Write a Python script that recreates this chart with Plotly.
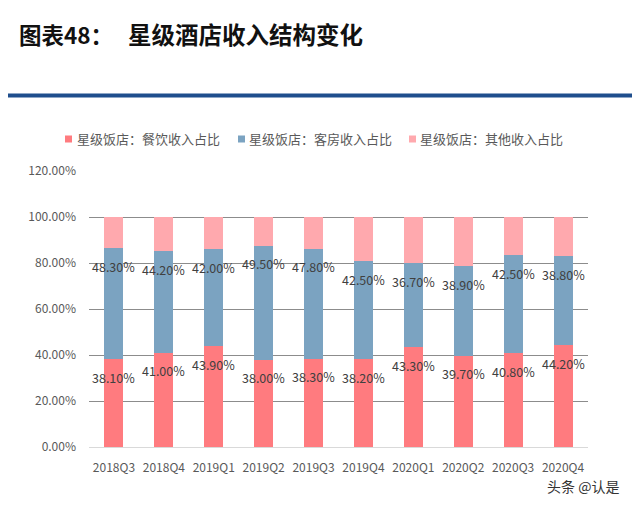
import plotly.graph_objects as go

categories = ["2018Q3", "2018Q4", "2019Q1", "2019Q2", "2019Q3",
              "2019Q4", "2020Q1", "2020Q2", "2020Q3", "2020Q4"]
food_share = [38.1, 41.0, 43.9, 38.0, 38.3, 38.2, 43.3, 39.7, 40.8, 44.2]
room_share = [48.3, 44.2, 42.0, 49.5, 47.8, 42.5, 36.7, 38.9, 42.5, 38.8]
other_share = [round(100 - f - r, 1) for f, r in zip(food_share, room_share)]

series_names = ["星级饭店：餐饮收入占比", "星级饭店：客房收入占比", "星级饭店：其他收入占比"]
colors = ["#FF7B7F", "#7BA3C1", "#FFA9AE"]

# the page body adds an 8px offset; work in window pixels and convert
OFF = 8
W, H = 640 - 2 * OFF, 506 - 2 * OFF
L, R, T, B = 89 - OFF, 588 - OFF, 171 - OFF, 447 - OFF


def px(xp):
    return (xp - OFF - L) / (R - L)


def py(yp):
    return (B - (yp - OFF)) / (B - T)


FONT = "Noto Sans CJK SC"

fig = go.Figure()
for name, vals, c in zip(series_names, [food_share, room_share, other_share], colors):
    fig.add_trace(go.Bar(
        x=categories, y=[v / 100 for v in vals], name=name,
        marker=dict(color=c, line=dict(width=0)),
        hoverinfo="skip", showlegend=False,
    ))

annotations = []
for i, cat in enumerate(categories):
    f = food_share[i] / 100
    r = room_share[i] / 100
    annotations.append(dict(x=cat, y=f, yshift=-18, text=f"{food_share[i]:.2f}%",
                            showarrow=False, font=dict(size=12.5, color="#404040", family=FONT)))
    annotations.append(dict(x=cat, y=f + r, yshift=-18, text=f"{room_share[i]:.2f}%",
                            showarrow=False, font=dict(size=12.5, color="#404040", family=FONT)))

annotations.append(dict(xref="paper", yref="paper", x=px(17), y=py(34), xanchor="left", yanchor="middle",
                        text="<b>图表48：</b>", showarrow=False,
                        font=dict(size=22.5, color="#111111", family=FONT)))
annotations.append(dict(xref="paper", yref="paper", x=px(126), y=py(34), xanchor="left", yanchor="middle",
                        text="<b>星级酒店收入结构变化</b>", showarrow=False,
                        font=dict(size=23.5, color="#111111", family=FONT)))
annotations.append(dict(xref="paper", yref="paper", x=px(583), y=py(486), xanchor="center", yanchor="middle",
                        text="头条 @认是", showarrow=False,
                        font=dict(size=14, color="#333333", family=FONT)))

shapes = [dict(type="rect", xref="paper", yref="paper", x0=px(0), x1=px(640), y0=py(93.5), y1=py(97.5),
               fillcolor="#1F4E8D", line=dict(width=0), layer="above")]

# legend drawn as key squares + text
legend_sq_x = [65, 238, 409]
legend_txt_x = [75, 247, 418]
LEG_Y = 139
for name, c, sx, tx in zip(series_names, colors, legend_sq_x, legend_txt_x):
    shapes.append(dict(type="rect", xref="paper", yref="paper", x0=px(sx), x1=px(sx + 7),
                       y0=py(LEG_Y + 3.5), y1=py(LEG_Y - 3.5), fillcolor=c, line=dict(width=0)))
    annotations.append(dict(xref="paper", yref="paper", x=px(tx), y=py(LEG_Y), xanchor="left",
                            yanchor="middle", text=name, showarrow=False,
                            font=dict(size=13, color="#595959", family=FONT)))

fig.update_layout(
    width=W, height=H,
    margin=dict(l=L, r=W - R, t=T, b=H - B, pad=0),
    paper_bgcolor="white", plot_bgcolor="white",
    barmode="stack", bargap=0.62,
    font=dict(family=FONT, color="#595959", size=12),
    showlegend=False,
    annotations=annotations,
    shapes=shapes,
)
fig.update_xaxes(showgrid=False, showline=False, ticks="", tickfont=dict(size=12, color="#595959"),
                 ticklabelstandoff=12)
fig.update_yaxes(range=[0, 1.2], tickvals=[0, 0.2, 0.4, 0.6, 0.8, 1.0, 1.2], tickformat=".2%",
                 showgrid=True, gridcolor="#8C8C8C", gridwidth=1,
                 zeroline=True, zerolinecolor="#D9D9D9", zerolinewidth=1,
                 showline=False, ticks="", tickfont=dict(size=12, color="#595959"),
                 ticklabelstandoff=12)

fig.write_html("out.html")
